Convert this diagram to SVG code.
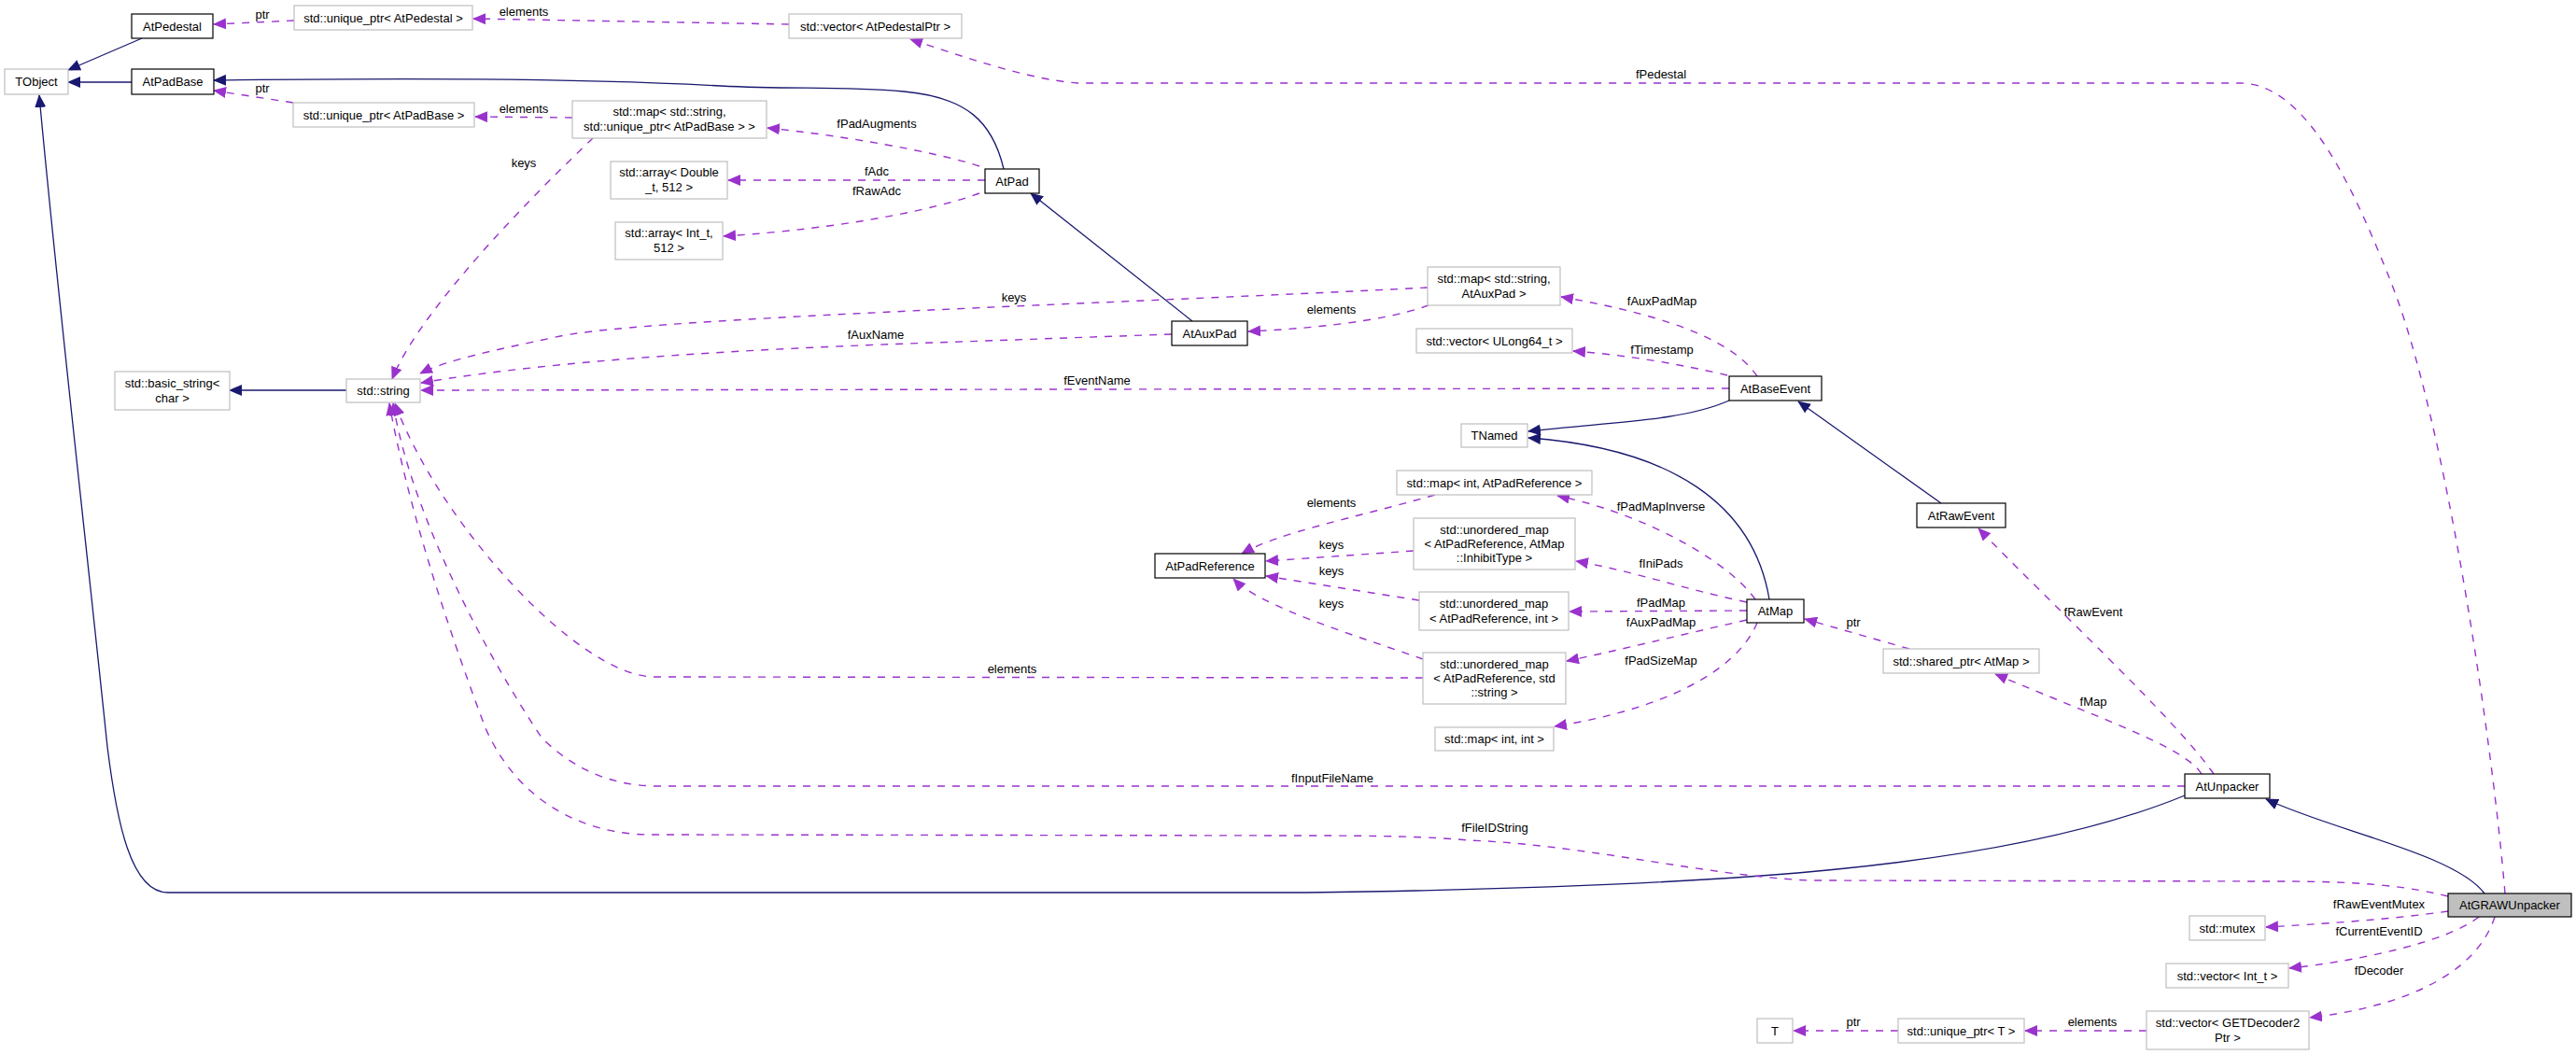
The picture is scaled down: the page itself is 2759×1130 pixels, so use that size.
<svg xmlns="http://www.w3.org/2000/svg" width="2759" height="1130" viewBox="0 0 2759 1130">
<style>
text{font-family:"Liberation Sans",Arial,sans-serif;font-size:13px;fill:#000;text-anchor:middle}
.doc{fill:#fff;stroke:#000;stroke-width:1.2}
.und{fill:#fff;stroke:#bfbfbf;stroke-width:1.2}
.cur{fill:#bfbfbf;stroke:#000;stroke-width:1.2}
.inh{fill:none;stroke:#191970;stroke-width:1.3;marker-end:url(#an)}
.use{fill:none;stroke:#9a32cd;stroke-width:1.4;stroke-dasharray:8,8;marker-end:url(#ap)}
</style>
<defs>
<marker id="an" viewBox="0 0 14 12" markerWidth="14" markerHeight="12" refX="13" refY="6" orient="auto" markerUnits="userSpaceOnUse"><path d="M0,0 L14,6 L0,12 z" fill="#191970"/></marker>
<marker id="ap" viewBox="0 0 14 12" markerWidth="14" markerHeight="12" refX="13" refY="6" orient="auto" markerUnits="userSpaceOnUse"><path d="M0,0 L14,6 L0,12 z" fill="#9a32cd"/></marker>
</defs>
<rect width="2759" height="1130" fill="#fff"/>
<g id="connectors">
<path class="inh" d="M152,41 L73,75"/>
<path class="inh" d="M141,88 L73,88"/>
<path class="inh" d="M1075,181 C1063,130 1035,104 968,98 C900,92 850,96 772,92 C600,83 400,84 229,86"/>
<path class="inh" d="M1277,344 L1104,207"/>
<path class="inh" d="M371,418 L246,418"/>
<path class="inh" d="M1852,429 C1800,452 1720,452 1637,462"/>
<path class="inh" d="M1895,642 C1878,540 1790,480 1637,469"/>
<path class="inh" d="M2079,539 L1926,430"/>
<path class="inh" d="M2340,852 C2150,930 1850,950 1400,956 L180,956 C140,956 125,880 115,800 C90,560 60,300 42,102"/>
<path class="inh" d="M2661,957 C2630,915 2500,890 2427,856"/>

<path class="use" d="M315,22 L229,26"/>
<text x="281" y="20">ptr</text>
<path class="use" d="M845,26 L507,20"/>
<text x="561" y="17">elements</text>
<path class="use" d="M2683,957 C2670,800 2620,450 2560,300 C2520,200 2470,89 2399,89 L1154,89 C1100,85 1030,60 975,42"/>
<text x="1779" y="84">fPedestal</text>
<path class="use" d="M314,110 L229,97"/>
<text x="281" y="99">ptr</text>
<path class="use" d="M613,126 L509,125"/>
<text x="561" y="121">elements</text>
<path class="use" d="M635,148 C580,200 450,330 420,406"/>
<text x="561" y="179">keys</text>
<path class="use" d="M1049,178 C1000,162 900,145 822,137"/>
<text x="939" y="137">fPadAugments</text>
<path class="use" d="M1055,193 L780,193"/>
<text x="939" y="188">fAdc</text>
<path class="use" d="M1049,207 C1000,225 900,245 775,253"/>
<text x="939" y="209">fRawAdc</text>
<path class="use" d="M1529,308 C1200,325 700,340 600,360 C530,375 480,385 450,400"/>
<text x="1086" y="323">keys</text>
<path class="use" d="M1530,327 C1480,345 1400,352 1337,355"/>
<text x="1426" y="336">elements</text>
<path class="use" d="M1255,358 L1000,367 C800,374 600,385 451,410"/>
<text x="938" y="363">fAuxName</text>
<path class="use" d="M1852,416 L451,418"/>
<text x="1175" y="412">fEventName</text>
<path class="use" d="M1882,403 C1860,370 1800,340 1672,318"/>
<text x="1780" y="327">fAuxPadMap</text>
<path class="use" d="M1850,402 C1800,390 1740,380 1685,376"/>
<text x="1780" y="379">fTimestamp</text>
<path class="use" d="M1880,642 C1850,600 1760,550 1668,531"/>
<text x="1779" y="547">fPadMapInverse</text>
<path class="use" d="M1871,645 C1800,630 1750,612 1688,601"/>
<text x="1779" y="608">fIniPads</text>
<path class="use" d="M1871,654 L1681,655"/>
<text x="1779" y="650">fPadMap</text>
<path class="use" d="M1871,664 C1800,680 1740,695 1678,708"/>
<text x="1779" y="671">fAuxPadMap</text>
<path class="use" d="M1882,667 C1860,720 1780,760 1665,778"/>
<text x="1779" y="712">fPadSizeMap</text>
<path class="use" d="M1537,530 C1450,555 1370,570 1330,593"/>
<text x="1426" y="543">elements</text>
<path class="use" d="M1514,590 L1356,601"/>
<text x="1426" y="588">keys</text>
<path class="use" d="M1520,643 L1356,617"/>
<text x="1426" y="616">keys</text>
<path class="use" d="M1524,706 C1450,680 1350,650 1321,620"/>
<text x="1426" y="651">keys</text>
<path class="use" d="M1524,726 L701,725 C620,725 470,560 423,432"/>
<text x="1084" y="721">elements</text>
<path class="use" d="M2045,695 L1933,663"/>
<text x="1985" y="671">ptr</text>
<path class="use" d="M2358,829 C2340,800 2250,770 2137,722"/>
<text x="2242" y="756">fMap</text>
<path class="use" d="M2371,829 C2330,770 2200,650 2119,566"/>
<text x="2242" y="660">fRawEvent</text>
<path class="use" d="M2340,842 L705,842 C650,842 610,820 580,790 C520,700 440,550 421,432"/>
<text x="1427" y="838">fInputFileName</text>
<path class="use" d="M2622,960 C2580,950 2540,944 2440,944 L1937,943 C1820,937 1700,905 1573,900 C1530,896 1480,895 1400,895 L696,894 C640,894 560,870 520,780 C490,700 440,560 417,432"/>
<text x="1601" y="891">fFileIDString</text>
<path class="use" d="M2622,976 C2560,985 2480,990 2427,993"/>
<text x="2548" y="973">fRawEventMutex</text>
<path class="use" d="M2655,982 C2620,1010 2520,1030 2452,1037"/>
<text x="2548" y="1002">fCurrentEventID</text>
<path class="use" d="M2672,982 C2650,1050 2560,1080 2474,1090"/>
<text x="2548" y="1044">fDecoder</text>
<path class="use" d="M2299,1104 L2169,1104"/>
<text x="2241" y="1099">elements</text>
<path class="use" d="M2033,1104 L1921,1104"/>
<text x="1985" y="1099">ptr</text>
</g>

<g id="AtPedestal"><rect class="doc" x="141" y="15" width="87" height="26"/><text x="184.5" y="32.5">AtPedestal</text></g>
<g id="unique_ptr_AtPedestal"><rect class="und" x="315" y="6" width="191" height="26"/><text x="410.5" y="23.5">std::unique_ptr&lt; AtPedestal &gt;</text></g>
<g id="vector_AtPedestalPtr"><rect class="und" x="845" y="15" width="185" height="26"/><text x="937.5" y="32.5">std::vector&lt; AtPedestalPtr &gt;</text></g>
<g id="TObject"><rect class="und" x="5" y="74" width="68" height="27"/><text x="39" y="92">TObject</text></g>
<g id="AtPadBase"><rect class="doc" x="141" y="74" width="88" height="27"/><text x="185" y="92">AtPadBase</text></g>
<g id="unique_ptr_AtPadBase"><rect class="und" x="314" y="110" width="194" height="26"/><text x="411" y="127.5">std::unique_ptr&lt; AtPadBase &gt;</text></g>
<g id="map_string_AtPadBase"><rect class="und" x="613" y="108" width="208" height="40"/><text x="717" y="124">std::map&lt; std::string,</text><text x="717" y="140">std::unique_ptr&lt; AtPadBase &gt; &gt;</text></g>
<g id="array_Double"><rect class="und" x="654" y="173" width="125" height="40"/><text x="716.5" y="189">std::array&lt; Double</text><text x="716.5" y="205">_t, 512 &gt;</text></g>
<g id="array_Int"><rect class="und" x="659" y="238" width="115" height="40"/><text x="716.5" y="254">std::array&lt; Int_t,</text><text x="716.5" y="270">512 &gt;</text></g>
<g id="AtPad"><rect class="doc" x="1055" y="181" width="58" height="26"/><text x="1084" y="198.5">AtPad</text></g>
<g id="map_string_AtAuxPad"><rect class="und" x="1529" y="286" width="142" height="41"/><text x="1600" y="302.5">std::map&lt; std::string,</text><text x="1600" y="318.5">AtAuxPad &gt;</text></g>
<g id="AtAuxPad"><rect class="doc" x="1255" y="344" width="81" height="26"/><text x="1295.5" y="361.5">AtAuxPad</text></g>
<g id="vector_ULong64"><rect class="und" x="1517" y="352" width="167" height="26"/><text x="1600.5" y="369.5">std::vector&lt; ULong64_t &gt;</text></g>
<g id="basic_string"><rect class="und" x="123" y="398" width="123" height="41"/><text x="184.5" y="414.5">std::basic_string&lt;</text><text x="184.5" y="430.5">char &gt;</text></g>
<g id="std_string"><rect class="und" x="371" y="406" width="79" height="25"/><text x="410.5" y="423">std::string</text></g>
<g id="AtBaseEvent"><rect class="doc" x="1852" y="403" width="99" height="26"/><text x="1901.5" y="420.5">AtBaseEvent</text></g>
<g id="TNamed"><rect class="und" x="1565" y="454" width="71" height="25"/><text x="1600.5" y="471">TNamed</text></g>
<g id="map_int_AtPadReference"><rect class="und" x="1496" y="504" width="209" height="26"/><text x="1600.5" y="521.5">std::map&lt; int, AtPadReference &gt;</text></g>
<g id="umap_InhibitType"><rect class="und" x="1514" y="555" width="173" height="55"/><text x="1600.5" y="571.5">std::unordered_map</text><text x="1600.5" y="586.5">&lt; AtPadReference, AtMap</text><text x="1600.5" y="601.5">::InhibitType &gt;</text></g>
<g id="AtRawEvent"><rect class="doc" x="2053" y="539" width="95" height="26"/><text x="2100.5" y="556.5">AtRawEvent</text></g>
<g id="AtPadReference"><rect class="doc" x="1237" y="593" width="118" height="26"/><text x="1296" y="610.5">AtPadReference</text></g>
<g id="umap_int"><rect class="und" x="1520" y="634" width="160" height="41"/><text x="1600" y="650.5">std::unordered_map</text><text x="1600" y="666.5">&lt; AtPadReference, int &gt;</text></g>
<g id="AtMap"><rect class="doc" x="1871" y="642" width="61" height="25"/><text x="1901.5" y="659">AtMap</text></g>
<g id="shared_ptr_AtMap"><rect class="und" x="2017" y="695" width="167" height="26"/><text x="2100.5" y="712.5">std::shared_ptr&lt; AtMap &gt;</text></g>
<g id="umap_string"><rect class="und" x="1524" y="699" width="153" height="55"/><text x="1600.5" y="715.5">std::unordered_map</text><text x="1600.5" y="730.5">&lt; AtPadReference, std</text><text x="1600.5" y="745.5">::string &gt;</text></g>
<g id="map_int_int"><rect class="und" x="1537" y="779" width="127" height="25"/><text x="1600.5" y="796">std::map&lt; int, int &gt;</text></g>
<g id="AtUnpacker"><rect class="doc" x="2340" y="829" width="91" height="26"/><text x="2385.5" y="846.5">AtUnpacker</text></g>
<g id="AtGRAWUnpacker"><rect class="cur" x="2622" y="957" width="132" height="25"/><text x="2688" y="974">AtGRAWUnpacker</text></g>
<g id="std_mutex"><rect class="und" x="2345" y="981" width="81" height="26"/><text x="2385.5" y="998.5">std::mutex</text></g>
<g id="vector_Int"><rect class="und" x="2320" y="1032" width="131" height="26"/><text x="2385.5" y="1049.5">std::vector&lt; Int_t &gt;</text></g>
<g id="vector_GETDecoder2Ptr"><rect class="und" x="2299" y="1083" width="174" height="41"/><text x="2386" y="1099.5">std::vector&lt; GETDecoder2</text><text x="2386" y="1115.5">Ptr &gt;</text></g>
<g id="unique_ptr_T"><rect class="und" x="2033" y="1091" width="135" height="26"/><text x="2100.5" y="1108.5">std::unique_ptr&lt; T &gt;</text></g>
<g id="T"><rect class="und" x="1882" y="1091" width="38" height="26"/><text x="1901" y="1108.5">T</text></g>
</svg>
